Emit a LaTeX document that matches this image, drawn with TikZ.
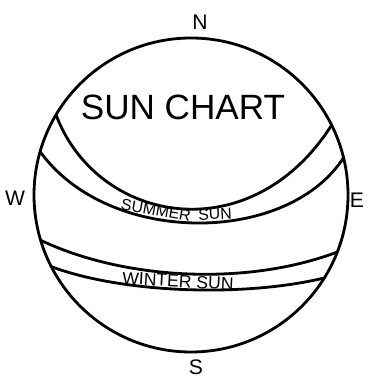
\documentclass[tikz,border=0pt]{standalone}
\usepackage{fontspec}
\setmainfont{Liberation Sans}
\tikzset{
  chartline/.style={line width=1.6pt, line cap=round, line join=round},
  compass/.style={font=\fontsize{12}{12}\selectfont},
  bandlabel/.style={font=\fontsize{10}{10}\selectfont, inner sep=0pt}
}
\begin{document}
\begin{tikzpicture}[x=0.02cm, y=-0.02cm]
  \useasboundingbox (0,0) rectangle (368,377);
  \coordinate (centre) at (191,195);
  % paths of the sun, clipped to the sky dome
  \begin{scope}
    \clip (centre) circle[radius=157];
    \draw[chartline] (55,112) .. controls (95,225) and (255,255) .. (336,118);
    \draw[chartline] (35,144) .. controls (100,248) and (293,248) .. (347,152);
    \draw[chartline] (36,238) .. controls (120,280) and (250,288) .. (345,249);
    \draw[chartline] (47,265) .. controls (120,294) and (250,298) .. (332,276);
  \end{scope}
  \draw[chartline] (centre) circle[radius=157];
  % compass points
  \foreach \n/\x/\y in {N/200/22, W/15/198, E/357/200, S/196/367}
    \node[compass] (\n) at (\x,\y) {\n};
  \node[font=\fontsize{20}{20}\selectfont] (title) at (183,107) {SUN CHART};
  % labels bent along the bands
  \node[bandlabel, font=\fontsize{9}{9}\selectfont, rotate=-10] (summer) at (156,210) {SUMMER};
  \node[bandlabel, font=\fontsize{9}{9}\selectfont, rotate=3] (sun) at (215,214) {SUN};
  \node[bandlabel, rotate=-3] (winter) at (178,281) {WINTER SUN};
\end{tikzpicture}
\end{document}
